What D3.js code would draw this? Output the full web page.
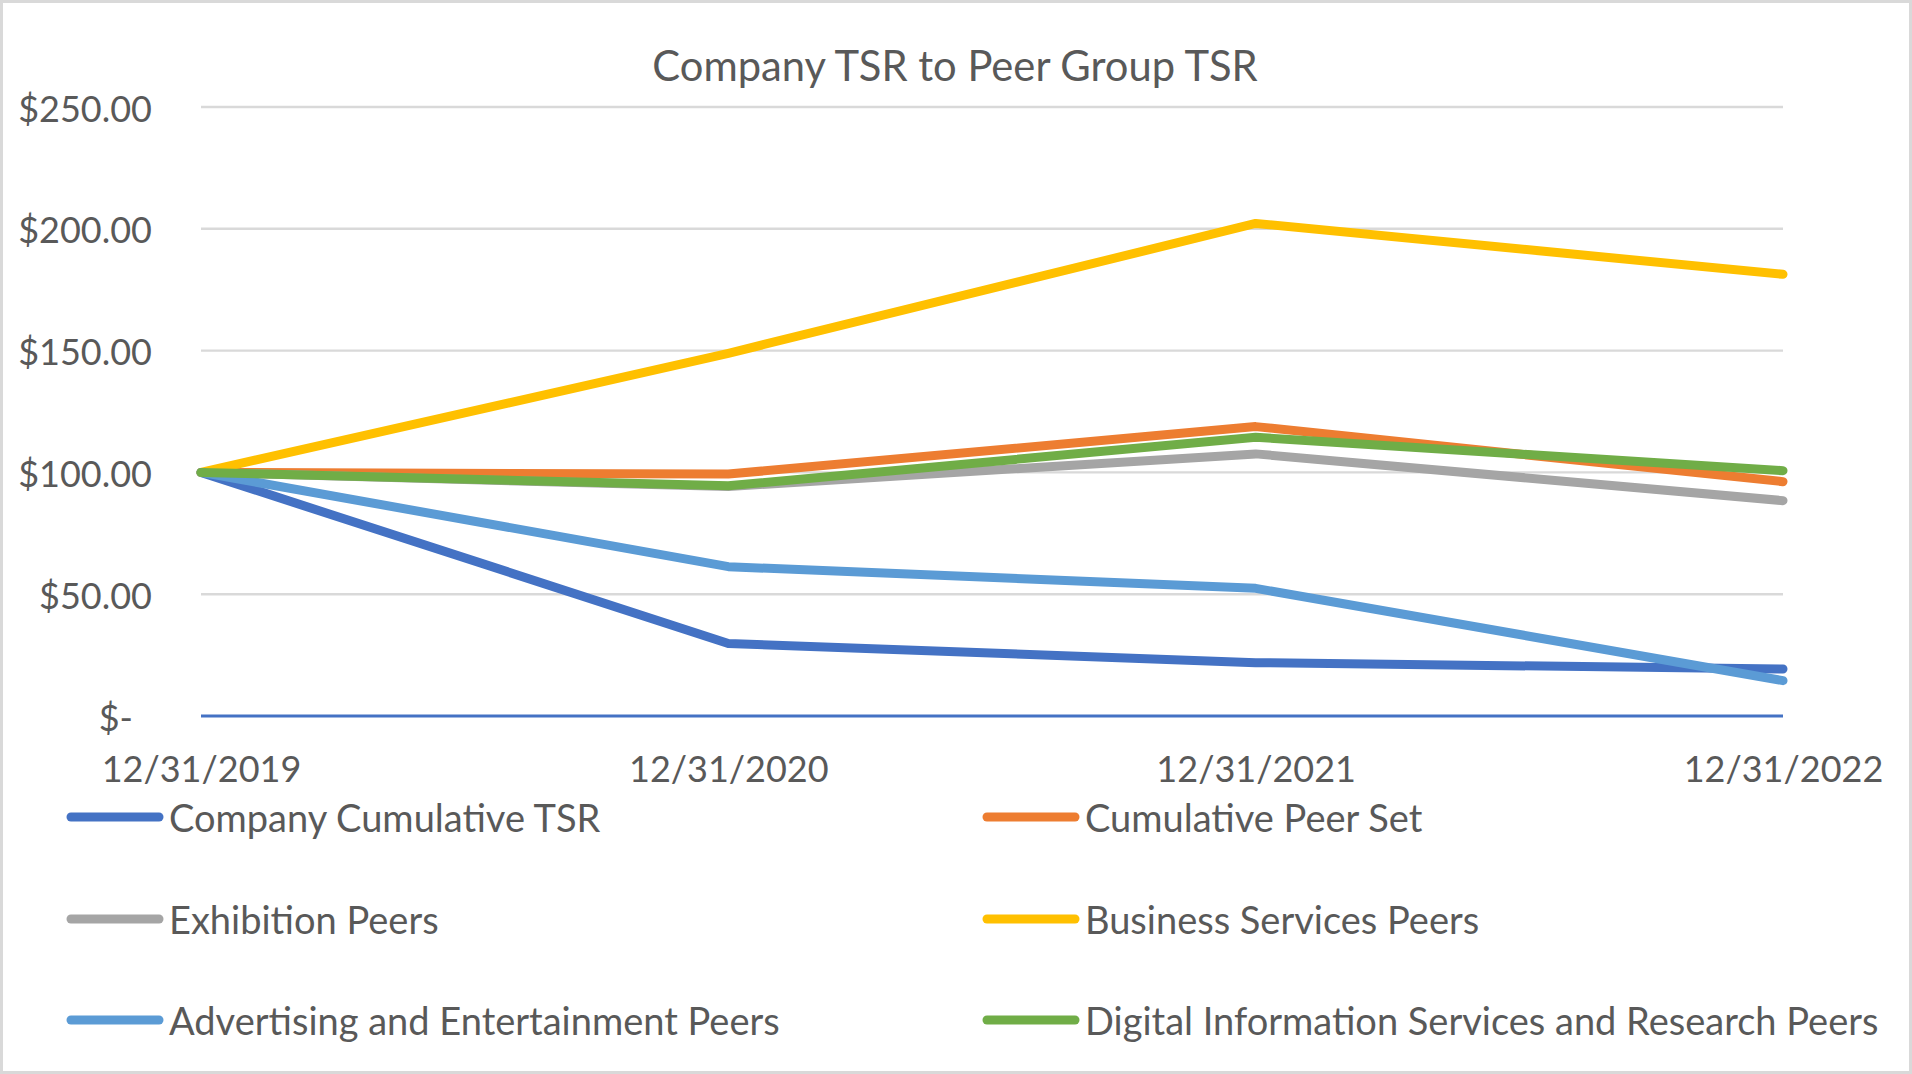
<!DOCTYPE html>
<html>
<head>
<meta charset="utf-8">
<script src="https://cdn.jsdelivr.net/npm/d3@7"></script>
<style>
  body { margin: 0; background: #fff; }
  text { font-family: Lato, "Open Sans", sans-serif; fill: #595959; }
</style>
</head>
<body>
<script>
const dates = ["12/31/2019", "12/31/2020", "12/31/2021", "12/31/2022"];
const seriesNames = ["Company Cumulative TSR", "Cumulative Peer Set", "Exhibition Peers",
                     "Business Services Peers", "Advertising and Entertainment Peers",
                     "Digital Information Services and Research Peers"];
const company     = [100, 29.8, 21.9, 19.3];
const peerSet     = [100, 99.3, 118.8, 96.2];
const exhibition  = [100, 94.2, 107.6, 88.4];
const business    = [100, 148.9, 202.2, 181.3];
const advertising = [100, 61.3, 52.4, 14.5];
const digital     = [100, 94.5, 114.4, 100.7];
const yTicks = [0, 50, 100, 150, 200, 250];

const colors = ["#4472C4", "#ED7D31", "#A5A5A5", "#FFC000", "#5B9BD5", "#70AD47"];
const values = [company, peerSet, exhibition, business, advertising, digital];
const series = seriesNames.map((name, i) => ({ name, color: colors[i], values: values[i] }));

const W = 1912, H = 1074;
const svg = d3.select("body").append("svg")
  .attr("width", W)
  .attr("height", H);

// chart border
svg.append("rect")
  .attr("x", 1.5).attr("y", 1.5)
  .attr("width", W - 3).attr("height", H - 3)
  .attr("fill", "#fff")
  .attr("stroke", "#D9D9D9")
  .attr("stroke-width", 3);

const x = d3.scalePoint().domain(dates).range([201, 1783]);
const y = d3.scaleLinear().domain([0, 250]).range([716, 107]);

svg.append("text")
  .attr("x", 955)
  .attr("y", 65)
  .attr("font-size", 41.7)
  .attr("text-anchor", "middle")
  .attr("dominant-baseline", "central")
  .text("Company TSR to Peer Group TSR");

// gridlines
svg.append("g").selectAll("line").data(yTicks.filter(d => d > 0))
  .enter().append("line")
  .attr("x1", x.range()[0])
  .attr("x2", x.range()[1])
  .attr("y1", d => y(d))
  .attr("y2", d => y(d))
  .attr("stroke", "#D9D9D9")
  .attr("stroke-width", 2.4);

// y axis labels
const yAxis = svg.append("g")
  .attr("transform", `translate(${x.range()[0]},0)`)
  .call(d3.axisLeft(y).tickValues(yTicks).tickSize(0).tickPadding(49)
    .tickFormat(d => d === 0 ? "$-" : "$" + d.toFixed(2)));
yAxis.select(".domain").remove();
yAxis.selectAll("text")
  .attr("font-size", 36)
  .attr("font-family", null)
  .attr("dy", null)
  .attr("dominant-baseline", "central")
  .attr("dx", d => d === 0 ? -19 : 0)
  .style("fill", "#595959");

// x axis labels
const xAxis = svg.append("g")
  .attr("transform", `translate(0,${y(0)})`)
  .call(d3.axisBottom(x).tickSize(0).tickPadding(52));
xAxis.select(".domain").remove();
xAxis.selectAll("text")
  .attr("font-size", 36)
  .attr("font-family", null)
  .attr("dy", null)
  .attr("dominant-baseline", "central")
  .style("fill", "#595959");

// zero axis line
svg.append("line")
  .attr("x1", x.range()[0])
  .attr("x2", x.range()[1])
  .attr("y1", y(0))
  .attr("y2", y(0))
  .attr("stroke", "#4472C4")
  .attr("stroke-width", 3);

const line = d3.line()
  .x((d, i) => x(dates[i]))
  .y(d => y(d));

svg.append("g").selectAll("path").data(series)
  .enter().append("path")
  .attr("d", d => line(d.values))
  .attr("fill", "none")
  .attr("stroke", d => d.color)
  .attr("stroke-width", 9)
  .attr("stroke-linecap", "round")
  .attr("stroke-linejoin", "round");

// legend: two columns, three rows
const legendCols = [67, 983];
const legendRows = [817, 919, 1020];
const legend = svg.append("g").selectAll(".legend").data(series)
  .enter().append("g")
  .attr("class", "legend")
  .attr("transform", (d, i) => `translate(${legendCols[i % 2]}, ${legendRows[Math.floor(i / 2)]})`);

legend.append("line")
  .attr("x1", 4)
  .attr("x2", 92)
  .attr("stroke", d => d.color)
  .attr("stroke-width", 9)
  .attr("stroke-linecap", "round");

legend.append("text")
  .attr("x", 102)
  .attr("font-size", 38)
  .attr("dominant-baseline", "central")
  .text(d => d.name);
</script>
</body>
</html>
